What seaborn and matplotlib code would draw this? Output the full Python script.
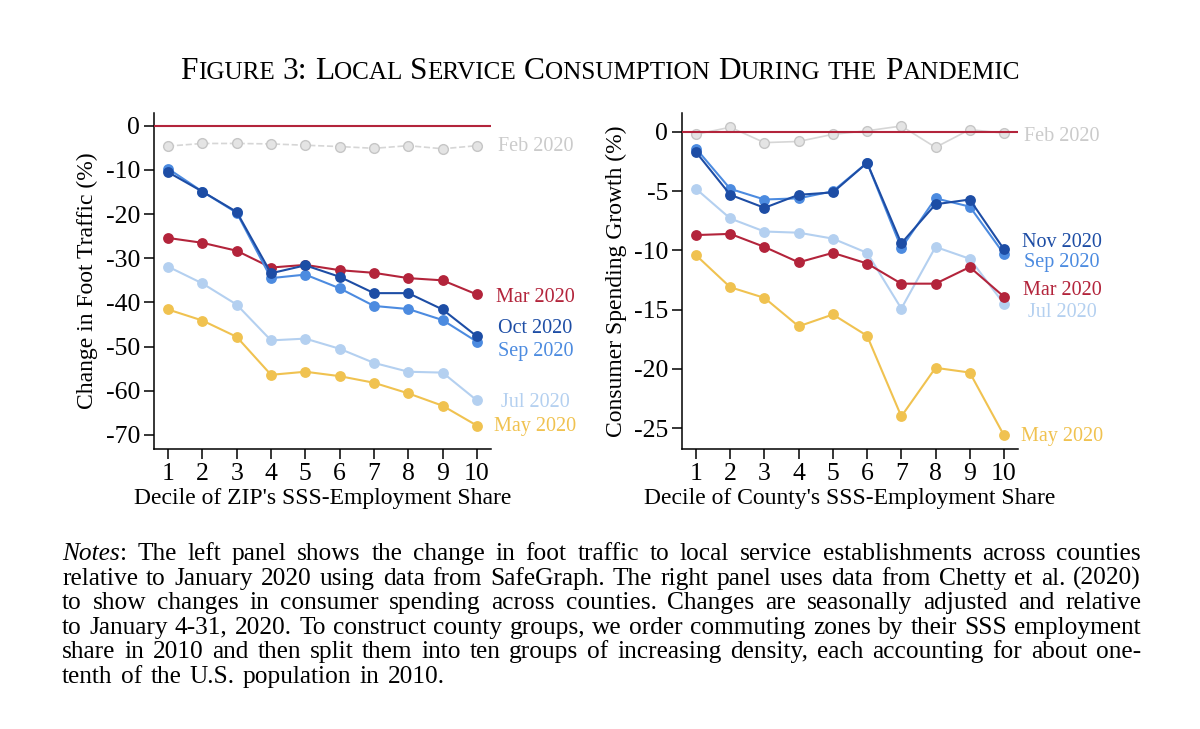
import numpy as np
import pandas as pd
import matplotlib
matplotlib.use("Agg")
import matplotlib.pyplot as plt
import seaborn as sns

# ---- données ----
deciles = list(range(1, 11))

# panneau gauche : variation de la fréquentation (%)
foot_feb = [-4.6, -4.0, -4.0, -4.1, -4.4, -4.7, -5.1, -4.5, -5.2, -4.5]
foot_mar = [-25.4, -26.5, -28.3, -32.1, -31.5, -32.7, -33.3, -34.5, -35.0, -38.2]
foot_may = [-41.6, -44.1, -47.8, -56.4, -55.7, -56.7, -58.2, -60.6, -63.4, -67.9]
foot_jul = [-31.9, -35.7, -40.5, -48.6, -48.2, -50.5, -53.7, -55.7, -55.9, -62.2]
foot_sep = [-9.7, -14.9, -19.7, -34.5, -33.7, -36.8, -40.8, -41.5, -44.0, -48.9]
foot_oct = [-10.5, -14.9, -19.5, -33.4, -31.6, -34.2, -37.9, -37.9, -41.6, -47.7]

# panneau droit : croissance des dépenses (%)
spend_feb = [-0.2, 0.4, -0.9, -0.8, -0.2, 0.1, 0.5, -1.3, 0.2, -0.1]
spend_mar = [-8.7, -8.6, -9.7, -11.0, -10.2, -11.1, -12.8, -12.8, -11.4, -13.9]
spend_may = [-10.4, -13.1, -14.0, -16.4, -15.4, -17.2, -24.0, -19.9, -20.3, -25.6]
spend_jul = [-4.8, -7.3, -8.4, -8.5, -9.0, -10.2, -14.9, -9.7, -10.7, -14.5]
spend_sep = [-1.4, -4.8, -5.7, -5.6, -5.0, -2.6, -9.8, -5.6, -6.3, -10.3]
spend_nov = [-1.7, -5.3, -6.4, -5.3, -5.1, -2.6, -9.4, -6.1, -5.7, -9.9]

left_yticks = [0, -10, -20, -30, -40, -50, -60, -70]
right_yticks = [0, -5, -10, -15, -20, -25]

RED = "#B3243B"
DARK = "#1D4DA5"
MID = "#4C8BE0"
LIGHT = "#B4D0F0"
YEL = "#F0C250"
GRAY = "#CBCBCB"

# (nom, valeurs, couleur, position y de l'étiquette)
left_series = [
    ("Feb 2020", foot_feb, GRAY, -4.8),
    ("May 2020", foot_may, YEL, -68.2),
    ("Jul 2020", foot_jul, LIGHT, -62.7),
    ("Mar 2020", foot_mar, RED, -38.8),
    ("Sep 2020", foot_sep, MID, -51.2),
    ("Oct 2020", foot_oct, DARK, -46.0),
]
right_series = [
    ("Feb 2020", spend_feb, GRAY, -0.4),
    ("May 2020", spend_may, YEL, -25.7),
    ("Jul 2020", spend_jul, LIGHT, -15.2),
    ("Mar 2020", spend_mar, RED, -13.4),
    ("Sep 2020", spend_sep, MID, -11.0),
    ("Nov 2020", spend_nov, DARK, -9.3),
]

sns.set_theme(style="white")
plt.rcParams['font.family'] = ['Liberation Serif', 'DejaVu Serif']
plt.rcParams['axes.unicode_minus'] = False
plt.rcParams['xtick.labelsize'] = 18.5
plt.rcParams['ytick.labelsize'] = 18.5

fig = plt.figure(figsize=(12, 7.29), dpi=100)
W, H = 1200, 729
ax1 = fig.add_axes([154 / W, 1 - 449 / H, 337 / W, 336 / H])
ax2 = fig.add_axes([682 / W, 1 - 449 / H, 336 / W, 336 / H])


def draw_panel(ax, series, yticks, ylim, ylabel, xlabel, feb_dash):
    for name, vals, col, ly in series:
        if name.startswith("Feb"):
            sns.lineplot(x=deciles, y=vals, ax=ax, color="#D6D6D6", lw=1.2,
                         ls="--" if feb_dash else "-", marker="o", ms=7,
                         markerfacecolor="#E4E4E4", markeredgecolor="#C6C6C6",
                         markeredgewidth=1.0, zorder=2)
            ax.axhline(0, color=RED, lw=1.5, zorder=3)
        else:
            sns.lineplot(x=deciles, y=vals, ax=ax, color=col, lw=1.5,
                         marker="o", ms=7.8, markeredgecolor=col,
                         markeredgewidth=0, zorder=4)
        ax.text(11.7, ly, name, color=col, ha="center", va="center",
                fontsize=14.5, clip_on=False)
    ax.set_xlim(0.59, 10.41)
    ax.set_ylim(*ylim)
    ax.set_xticks(deciles)
    ax.set_yticks(yticks)
    ax.set_yticklabels([str(t) for t in yticks], fontsize=18.5)
    ax.set_xticklabels([str(d) for d in deciles], fontsize=18.5)
    ax.tick_params(axis="both", direction="out", length=7, width=1.1,
                   colors="black", pad=3, left=True, bottom=True)
    ax.tick_params(axis="x", pad=3)
    for s in ["top", "right"]:
        ax.spines[s].set_visible(False)
    for s in ["left", "bottom"]:
        ax.spines[s].set_color("black")
        ax.spines[s].set_linewidth(1.1)
    ax.set_ylabel(ylabel, fontsize=17, color="black")
    ax.set_xlabel(xlabel, fontsize=17, color="black")
    ax.grid(False)


draw_panel(ax1, left_series, left_yticks, (-73.2, 2.9),
           "Change in Foot Traffic (%)", "Decile of ZIP's SSS-Employment Share", True)
draw_panel(ax2, right_series, right_yticks, (-26.75, 1.6),
           "Consumer Spending Growth (%)", "Decile of County's SSS-Employment Share", False)
ax1.yaxis.set_label_coords(-0.166, 0.5)
ax2.yaxis.set_label_coords(-0.164, 0.5)
ax1.xaxis.set_label_coords(0.5, -0.115)
ax2.xaxis.set_label_coords(0.5, -0.115)

renderer = fig.canvas.get_renderer()


def width_px(s, **kw):
    t = fig.text(0, 0, s, **kw)
    w = t.get_window_extent(renderer).width
    t.remove()
    return w


# ---- titre en petites capitales ----
title_words = [[("F", 1), ("IGURE", 0)], [("3:", 1)], [("L", 1), ("OCAL", 0)],
               [("S", 1), ("ERVICE", 0)], [("C", 1), ("ONSUMPTION", 0)],
               [("D", 1), ("URING", 0)], [("THE", 0)], [("P", 1), ("ANDEMIC", 0)]]
big, small = 20.0, 16.0


def title_layout(big, small):
    sp = width_px("a a", fontsize=big) - width_px("aa", fontsize=big)
    ws = []
    for word in title_words:
        ws.append([width_px(s, fontsize=big if b else small) for s, b in word])
    total = sum(sum(w) for w in ws) + sp * (len(ws) - 1)
    return sp, ws, total


sp, ws, total = title_layout(big, small)
k = 841 / total
big, small = big * k, small * k
sp, ws, total = title_layout(big, small)
x = 600 - total / 2
for word, wl in zip(title_words, ws):
    for (s, b), w in zip(word, wl):
        fig.text(x / W, 1 - 79 / H, s, fontsize=big if b else small,
                 va="baseline", ha="left", color="black")
        x += w
    x += sp

# ---- notes justifiées ----
note_lines = [
    "Notes: The left panel shows the change in foot traffic to local service establishments across counties",
    "relative to January 2020 using data from SafeGraph. The right panel uses data from Chetty et al. (2020)",
    "to show changes in consumer spending across counties.  Changes are seasonally adjusted and relative",
    "to January 4-31, 2020. To construct county groups, we order commuting zones by their SSS employment",
    "share in 2010 and then split them into ten groups of increasing density, each accounting for about one-",
    "tenth of the U.S. population in 2010.",
]
x0, x1 = 62, 1141
nsize = 15.5
nat = width_px(note_lines[0].replace("Notes:", "Notes :"), fontsize=nsize)
nsize = nsize * 0.95 * (x1 - x0) / nat
nsp = width_px("a a", fontsize=nsize) - width_px("aa", fontsize=nsize)

for i, line in enumerate(note_lines):
    y = 1 - (560 + i * 24.6) / H
    words = line.split()
    pieces = []
    for w in words:
        if w == "Notes:":
            pieces.append([("Notes", "italic"), (":", "normal")])
        else:
            pieces.append([(w, "normal")])
    widths = [[width_px(s, fontsize=nsize, style=st) for s, st in p] for p in pieces]
    wsum = sum(sum(w) for w in widths)
    if i < len(note_lines) - 1:
        gap = (x1 - x0 - wsum) / (len(pieces) - 1)
    else:
        gap = nsp * 1.3
    x = x0
    for p, wl in zip(pieces, widths):
        for (s, st), w in zip(p, wl):
            fig.text(x / W, y, s, fontsize=nsize, style=st, va="baseline",
                     ha="left", color="black")
            x += w
        x += gap

fig.savefig("out.png", dpi=100, facecolor="white")
